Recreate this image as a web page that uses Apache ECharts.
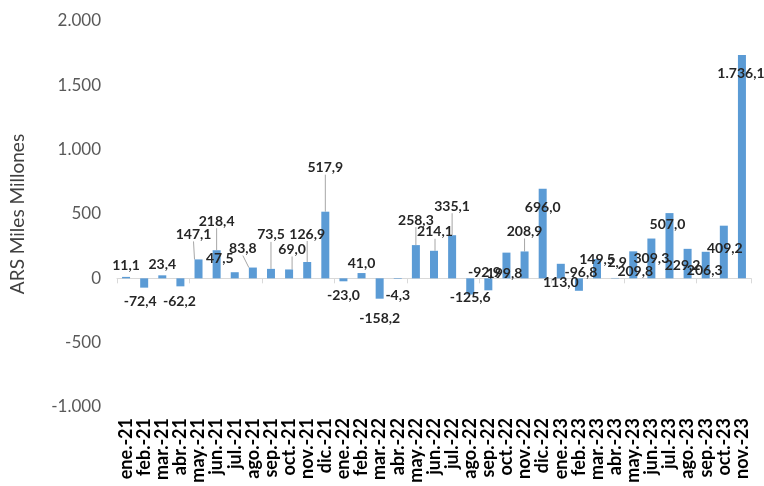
<!DOCTYPE html>
<html>
<head>
<meta charset="utf-8">
<script src="https://cdn.jsdelivr.net/npm/echarts@6/dist/echarts.min.js"></script>
<style>
  html, body { margin: 0; padding: 0; background: #fff; }
  #chart { width: 764px; height: 486px; }
</style>
</head>
<body>
<div id="chart"></div>
<script>
const months = [
  'ene.-21', 'feb.-21', 'mar.-21', 'abr.-21', 'may.-21', 'jun.-21', 'jul.-21', 'ago.-21', 'sep.-21', 'oct.-21', 'nov.-21', 'dic.-21',
  'ene.-22', 'feb.-22', 'mar.-22', 'abr.-22', 'may.-22', 'jun.-22', 'jul.-22', 'ago.-22', 'sep.-22', 'oct.-22', 'nov.-22', 'dic.-22',
  'ene.-23', 'feb.-23', 'mar.-23', 'abr.-23', 'may.-23', 'jun.-23', 'jul.-23', 'ago.-23', 'sep.-23', 'oct.-23', 'nov.-23'
]
const values = [
  11.1, -72.4, 23.4, -62.2, 147.1, 218.4, 47.5, 83.8, 73.5, 69.0, 126.9, 517.9,
  -23.0, 41.0, -158.2, -4.3, 258.3, 214.1, 335.1, -125.6, -92.9, 199.8, 208.9, 696.0,
  113.0, -96.8, 149.5, 2.9, 209.8, 309.3, 507.0, 229.2, 206.3, 409.2, 1736.1
]
const yTicks = [-1000, -500, 0, 500, 1000, 1500, 2000]

// label nudges (dx, dy) like the excel placement, and which ones get a leader line
const labelMoves = {
  1: [-4, 3], 3: [-1, 4], 4: [-5, -14], 5: [0, -18], 6: [-15, -3], 7: [-10, -8], 8: [0, -23],
  9: [3, -9], 10: [0, -17], 11: [0, -33], 12: [0, 3], 13: [0, 1], 14: [0, 9], 15: [0, 6],
  16: [0, -14], 17: [1, -8], 18: [0, -18], 19: [0, -8], 20: [-4, -29], 21: [-2, 32],
  22: [0, -9], 23: [0, 30], 24: [0, 30], 25: [2, -29], 26: [0, 11], 27: [2, -4],
  28: [2, 31], 29: [0, 31], 30: [-2, 22], 31: [-5, 28], 32: [-1, 30], 33: [1, 34], 34: [-1, 30]
}
const leaders = [4, 5, 7, 8, 9, 10, 11, 16, 17, 18, 22]

function fmt(v, dec) {
  const neg = v < 0
  let s = Math.abs(v).toFixed(dec)
  let parts = s.split('.')
  parts[0] = parts[0].replace(/\B(?=(\d{3})+(?!\d))/g, '.')
  return (neg ? '-' : '') + parts.join(',')
}

const chart = echarts.init(document.getElementById('chart'))
const font = 'Lato, "Open Sans", sans-serif'

chart.setOption({
  animation: false,
  grid: { left: 111, right: 13, top: 21, bottom: 79 },
  xAxis: [{
    type: 'category',
    data: months,
    axisLine: { onZero: true, lineStyle: { color: '#d9d9d9', width: 1 } },
    axisTick: { show: true, length: 5, lineStyle: { color: '#d9d9d9' } },
    axisLabel: { show: false }
  }, {
    type: 'category',
    data: months,
    position: 'bottom',
    axisLine: { show: false },
    axisTick: { show: false },
    axisLabel: {
      rotate: 90,
      margin: 11,
      interval: 0,
      fontFamily: font,
      fontWeight: 'bold',
      fontSize: 18,
      color: '#000'
    }
  }],
  yAxis: {
    type: 'value',
    min: -1000,
    max: 2000,
    interval: 500,
    splitLine: { show: false },
    axisLine: { show: false },
    axisTick: { show: false },
    axisLabel: {
      margin: 16,
      fontFamily: font,
      fontSize: 17,
      color: '#595959',
      formatter: v => fmt(v, 0)
    },
    name: 'ARS Miles Millones',
    nameLocation: 'middle',
    nameGap: 90,
    nameTextStyle: { fontFamily: font, fontSize: 19, color: '#404040' }
  },
  series: [{
    type: 'bar',
    xAxisIndex: 0,
    barWidth: 8,
    itemStyle: { color: '#5b9bd5' },
    data: values.map((v, i) => ({
      value: v,
      label: { position: v < 0 ? 'bottom' : 'top' },
      labelLine: { show: leaders.indexOf(i) >= 0 }
    })),
    label: {
      show: true,
      distance: 4,
      fontFamily: font,
      fontWeight: 'bold',
      fontSize: 14,
      color: '#262626',
      formatter: p => fmt(p.value, 1)
    },
    labelLine: { lineStyle: { color: '#a6a6a6', width: 1 } },
    labelLayout: params => {
      const m = labelMoves[params.dataIndex]
      return m ? { dx: m[0], dy: m[1] } : {}
    }
  }]
})
</script>
</body>
</html>
